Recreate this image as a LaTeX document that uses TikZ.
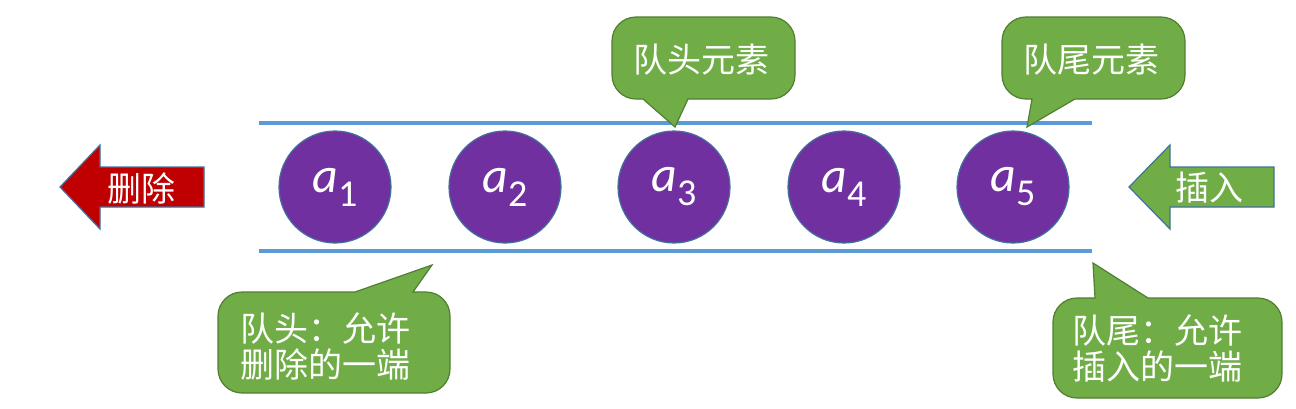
\documentclass[tikz,border=0pt]{standalone}
\usepackage{fontspec}
\setmainfont{Carlito}
\newfontfamily\cjk{Noto Sans CJK SC}
\definecolor{qpurple}{HTML}{7030A0}
\definecolor{qedge}{HTML}{41719C}
\definecolor{rblue}{HTML}{5B9BD5}
\definecolor{cgreen}{HTML}{70AD47}
\definecolor{cgreenD}{HTML}{507E32}
\definecolor{dred}{HTML}{C00000}
\newcommand\alabel[1]{{\fontsize{25pt}{25pt}\selectfont\itshape a}\raisebox{-7pt}{\fontsize{19pt}{19pt}\selectfont #1}}
\begin{document}
\begin{tikzpicture}[x=0.5pt,y=-0.5pt,
  ball/.style={circle, fill=qpurple, draw=qedge, line width=0.6pt, minimum size=56pt, inner sep=0pt, text=white},
  rail/.style={draw=rblue, line width=2pt},
  callout/.style={fill=cgreen, draw=cgreenD, line width=0.6pt},
  ctext/.style={text=white, font=\cjk\fontsize{17pt}{18pt}\selectfont, align=left, inner sep=0pt},
  bigarrow/.style={draw=qedge, line width=0.6pt}]
\useasboundingbox (0,0) rectangle (1296,408);
% rails
\coordinate (r1) at (259,123);
\coordinate (r2) at (1092,123);
\coordinate (r3) at (259,251);
\coordinate (r4) at (1092,251);
\draw[rail] (r1) -- (r2);
\draw[rail] (r3) -- (r4);
% elements
\node[ball] (a1) at (335,187) {\alabel{1}};
\node[ball] (a2) at (505,187) {\alabel{2}};
\node[ball] (a3) at (674,187) {\alabel{3}};
\node[ball] (a4) at (844,187) {\alabel{4}};
\node[ball] (a5) at (1013,187) {\alabel{5}};
% delete arrow
\draw[bigarrow, fill=dred] (60,187) -- (100,145) -- (100,167) -- (204,167) -- (204,207) -- (100,207) -- (100,229) -- cycle;
\node[ctext] (del) at (141,188) {删除};
% insert arrow
\draw[bigarrow, fill=cgreen] (1129,187) -- (1170,145) -- (1170,167) -- (1274,167) -- (1274,207) -- (1170,207) -- (1170,229) -- cycle;
\node[ctext] (ins) at (1209,188) {插入};
% callout: head element
\draw[callout] (703,17) [rounded corners=12] -- (795,17) -- (795,99) [sharp corners] -- (688,99) -- (675,127) -- (643,99) [rounded corners=12] -- (612,99) -- (612,17) -- cycle;
\node[ctext] (headel) at (701,60) {队头元素};
% callout: tail element
\draw[callout] (1093,17) [rounded corners=12] -- (1185,17) -- (1185,99) [sharp corners] -- (1075,99) -- (1027,127) -- (1032,99) [rounded corners=12] -- (1002,99) -- (1002,17) -- cycle;
\node[ctext] (tailel) at (1091,60) {队尾元素};
% callout: head end
\draw[callout] (334,393) [rounded corners=12] -- (218,393) -- (218,292) [sharp corners] -- (355,292) -- (432,265) -- (413,292) [rounded corners=12] -- (450,292) -- (450,393) -- cycle;
\node[ctext, anchor=west] (headend) at (240,346) {队头：允许\\删除的一端};
% callout: tail end
\draw[callout] (1167,398) [rounded corners=12] -- (1053,398) -- (1053,298) [sharp corners] -- (1095,298) -- (1093,263) -- (1148,298) [rounded corners=12] -- (1282,298) -- (1282,398) -- cycle;
\node[ctext, anchor=west] (tailend) at (1072,348) {队尾：允许\\插入的一端};
\end{tikzpicture}
\end{document}
